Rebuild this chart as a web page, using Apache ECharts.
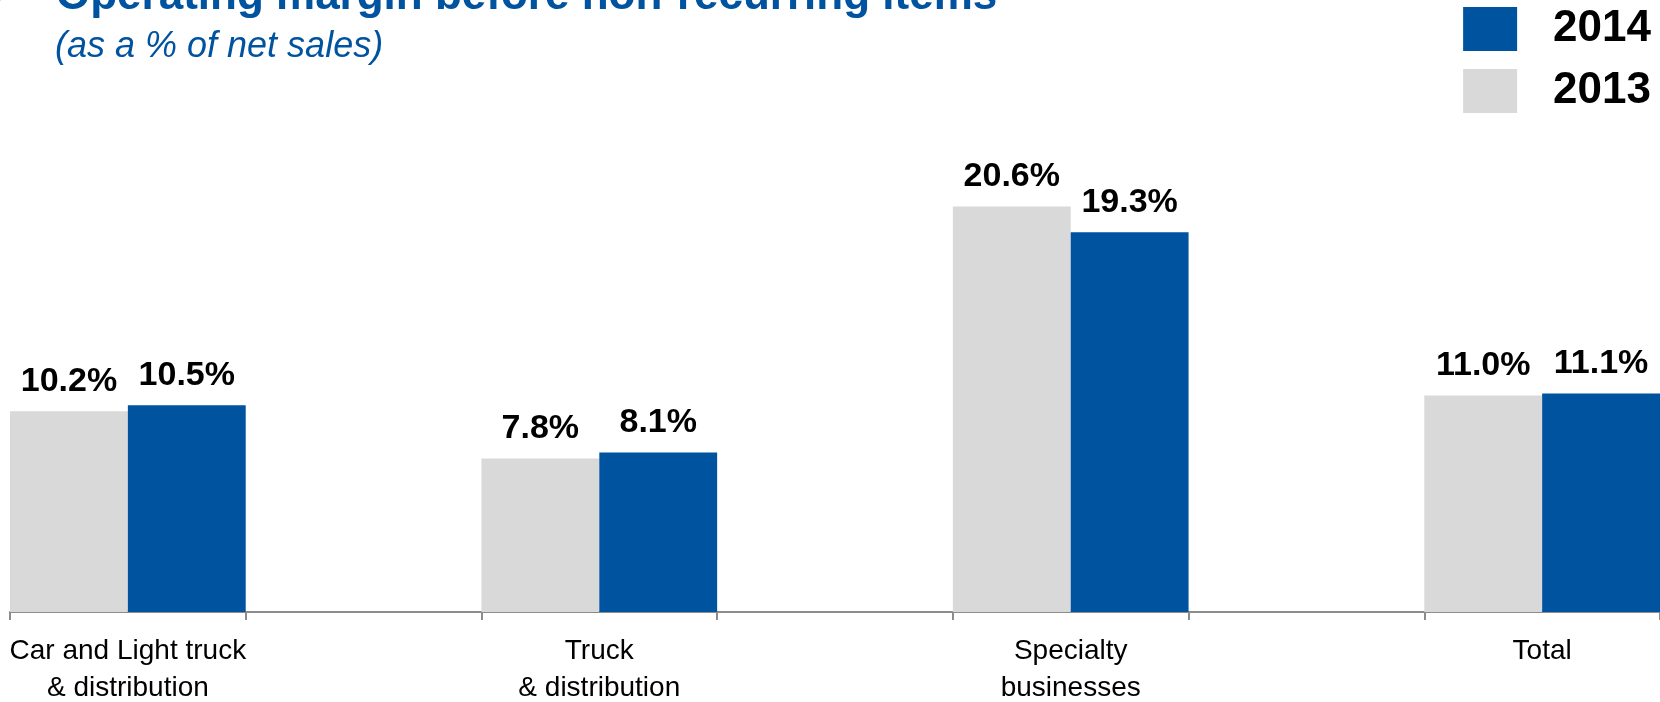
<!DOCTYPE html>
<html>
<head>
<meta charset="utf-8">
<script src="https://cdn.jsdelivr.net/npm/echarts@6/dist/echarts.min.js"></script>
<style>
  html, body { margin: 0; padding: 0; background: #ffffff; }
  #chart { width: 1660px; height: 702px; }
</style>
</head>
<body>
<div id="chart"></div>
<script>
// Segments (empty slots keep the spacing between groups)
const categories = ['Car and Light truck\n& distribution', '', 'Truck\n& distribution', '', 'Specialty\nbusinesses', '', 'Total'];
const margin2013 = [10.2, null, 7.8, null, 20.6, null, 11.0];
const margin2014 = [10.5, null, 8.1, null, 19.3, null, 11.1];
const legendNames = ['2014', '2013'];

const FONT = "'Liberation Sans Narrow', 'Arial Narrow', 'Liberation Sans', Arial, sans-serif";
const BLUE = '#00539f';
const GREY = '#d9d9d9';

const chart = echarts.init(document.getElementById('chart'), null, { renderer: 'canvas' });

const valueLabel = {
  show: true,
  position: 'top',
  distance: 13,
  color: '#000000',
  fontFamily: FONT,
  fontWeight: 'bold',
  fontSize: 34,
  formatter: p => p.value.toFixed(1) + '%'
};

chart.setOption({
  animation: false,
  backgroundColor: '#ffffff',
  title: [
    {
      text: 'Operating margin before non-recurring items',
      left: 51,
      top: -30,
      textStyle: { fontFamily: FONT, fontWeight: 'bold', fontSize: 44, color: BLUE }
    },
    {
      text: '(as a % of net sales)',
      left: 50,
      top: 24,
      textStyle: { fontFamily: FONT, fontStyle: 'italic', fontWeight: 'normal', fontSize: 36, color: BLUE }
    }
  ],
  graphic: [
    {
      type: 'text',
      left: -9,
      top: -9,
      style: { text: '\u25B6', fontSize: 16, fill: '#444444', fontFamily: FONT }
    }
  ],
  legend: {
    data: legendNames,
    orient: 'vertical',
    right: 9,
    top: 7,
    padding: 0,
    icon: 'rect',
    itemWidth: 54,
    itemHeight: 44,
    itemGap: 18,
    selectedMode: false,
    textStyle: { fontFamily: FONT, fontWeight: 'bold', fontSize: 44, color: '#000000', padding: [0, 0, 0, 31] }
  },
  grid: { left: 10, right: 0, top: 120, bottom: 90, containLabel: false, outerBoundsMode: 'none' },
  xAxis: {
    type: 'category',
    data: categories,
    boundaryGap: true,
    axisLine: { show: true, lineStyle: { color: '#8c8c8c', width: 2 } },
    axisTick: { show: true, interval: 0, length: 8, lineStyle: { color: '#8c8c8c', width: 2 } },
    axisLabel: {
      interval: 0,
      margin: 21,
      fontFamily: FONT,
      fontSize: 28,
      lineHeight: 37,
      color: '#000000'
    }
  },
  yAxis: {
    type: 'value',
    min: 0,
    max: 25,
    show: false,
    splitLine: { show: false }
  },
  series: [
    {
      name: '2013',
      type: 'bar',
      data: margin2013,
      barGap: '0%',
      barCategoryGap: '0%',
      itemStyle: { color: GREY },
      label: valueLabel
    },
    {
      name: '2014',
      type: 'bar',
      data: margin2014,
      barGap: '0%',
      barCategoryGap: '0%',
      itemStyle: { color: BLUE },
      label: valueLabel
    }
  ]
});
</script>
</body>
</html>
